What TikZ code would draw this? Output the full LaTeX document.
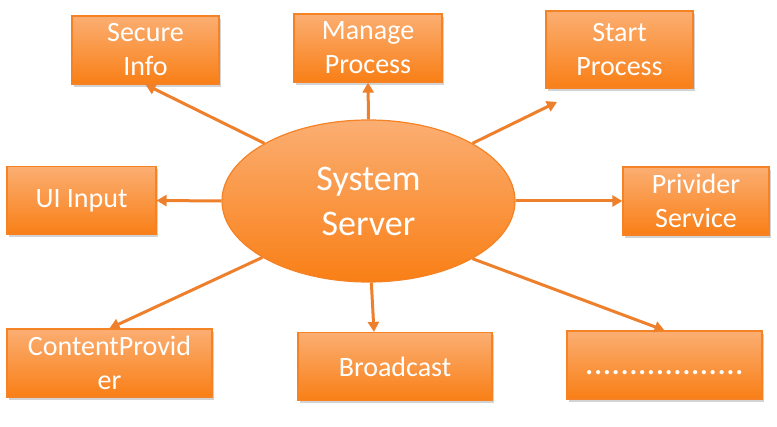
\documentclass[tikz,border=0pt]{standalone}
\usepackage{fontspec}
\setmainfont{Carlito}
\usetikzlibrary{calc}
\usetikzlibrary{shapes.geometric}
\usetikzlibrary{shadows}
\usetikzlibrary{arrows.meta}
\definecolor{boxtop}{RGB}{251,174,114}
\definecolor{boxbottom}{RGB}{249,127,22}
\definecolor{boxline}{RGB}{245,130,36}
\definecolor{linkcol}{RGB}{238,128,44}
\tikzset{procbox/.style={shape=rectangle,draw=boxline,line width=1.2pt,top color=boxtop,bottom color=boxbottom,text=white,align=center,inner sep=0pt,minimum height=68pt,font=\fontsize{28}{34}\selectfont,drop shadow={shadow xshift=1.5pt,shadow yshift=-3pt,opacity=0.35}}}
\tikzset{serverstate/.style={shape=ellipse,draw=boxline,line width=1.2pt,top color=boxtop,bottom color=boxbottom,text=white,align=center,inner sep=0pt,minimum width=293pt,minimum height=162pt,font=\fontsize{36}{45}\selectfont}}
\tikzset{link/.style={draw=linkcol,line width=3pt,-{Triangle[length=10pt,width=11pt]}}}

\begin{document}
\begin{tikzpicture}[x=1pt,y=-1pt]
\useasboundingbox (0,0) rectangle (777,427);

	\node [serverstate] (s) at (368.5,201) {System\\Server};

\draw (145.5,50) node[procbox, minimum width=147pt] (secure) {Secure\\Info};

\draw (368,48) node[procbox, minimum width=148pt] (manage) {Manage\\Process};

\draw (619.5,49.5) node[procbox, minimum width=147pt, minimum height=77pt] (start) {Start\\Process};

\draw (81.5,200.5) node[procbox, minimum width=149pt] (ui) {UI Input};

\draw (696,201) node[procbox, minimum width=146pt] (privider) {Privider\\Service};

\draw (109.5,363) node[procbox, minimum width=205pt] (content) {ContentProvid\\er};

\draw (395,366.5) node[procbox, minimum width=194pt] (broadcast) {Broadcast};

\draw (664.5,365) node[procbox, minimum width=195pt] (more) {\fontsize{35}{35}\selectfont\smash{\raisebox{-10pt}{..................}}};

	% free end of the arrow towards Start Process
	\coordinate (startend) at (557,102);

				\draw [link] (s.151) to (secure.south);
				\draw [link] (s.north) to (manage.south);
				\draw [link] (s.29) to (startend);

				\draw [link] (s.west) to (ui.east);
				\draw [link] (s.east) to (privider.west);

				\draw [link] (s.208) to (content.north);
				\draw [link] (s.272) to ($(broadcast.north)+(-21,0)$);
				\draw [link] (s.331) to (more.north);

		\end{tikzpicture}
\end{document}
